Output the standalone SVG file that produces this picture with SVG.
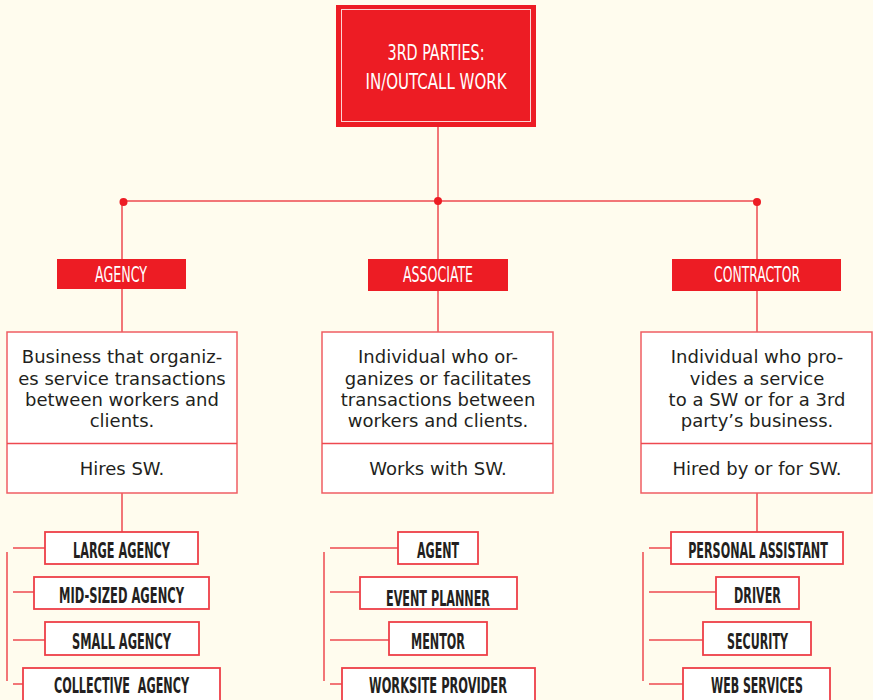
<svg xmlns="http://www.w3.org/2000/svg" width="873" height="700" viewBox="0 0 873 700">
<style>
.bg{fill:#FFFCEE}
.ln{stroke:#EE4950;stroke-width:1.5;fill:none}
.box{fill:#FFFFFF;stroke:#EF5D63;stroke-width:1.5}
.cbox{fill:#FFFFFF;stroke:#EE3F47;stroke-width:1.8}
.lab{fill:#ED1C24}
.lt{font-family:"Liberation Sans Narrow","DejaVu Sans Condensed","Liberation Sans",sans-serif;font-size:21px;fill:#FFFFFF;text-anchor:middle}
.ct{font-family:"Liberation Sans Narrow","DejaVu Sans Condensed","Liberation Sans",sans-serif;font-size:21px;fill:#231F20;text-anchor:middle;font-weight:bold;white-space:pre}
.dt{font-family:"DejaVu Sans",sans-serif;font-size:18px;fill:#231F20;text-anchor:middle}
.dot{fill:#ED1C24}
</style>
<rect class="bg" x="0" y="0" width="873" height="700"/>
<g id="connectors">
<path class="ln" d="M438,127 V201 M123,201 H757 M122,201 V259 M122,289 V332 M438,201 V259 M438,291 V332 M757,201 V259 M757,291 V332"/>
<path class="ln" d="M122,493 V532 M757,493 V532"/>
<path class="ln" d="M7,552 V681 M13,548 H45 M13,592 H34 M13,640 H45 M13,684 H23"/>
<path class="ln" d="M324,552 V681 M330,548 H398 M330,592 H360 M330,640 H389 M330,684 H342"/>
<path class="ln" d="M643,552 V681 M649,548 H671 M649,592 H716 M649,640 H703 M649,684 H683"/>
<circle class="dot" cx="123.5" cy="202" r="4"/>
<circle class="dot" cx="438" cy="201" r="4"/>
<circle class="dot" cx="757" cy="202" r="4"/>
</g>
<g id="root">
<rect x="336" y="5" width="200" height="122" fill="#ED1C24"/>
<rect x="341.5" y="9.5" width="189" height="112" fill="none" stroke="#FBD3D3" stroke-width="1"/>
<text class="lt" x="436" y="60" font-size="24" textLength="97" lengthAdjust="spacingAndGlyphs">3RD PARTIES:</text>
<text class="lt" x="436" y="89" font-size="24" textLength="141" lengthAdjust="spacingAndGlyphs">IN/OUTCALL WORK</text>
</g>
<g id="agency">
<rect class="lab" x="57" y="259" width="129" height="30"/>
<text class="lt" x="121" y="282" textLength="52" lengthAdjust="spacingAndGlyphs">AGENCY</text>
</g>
<g id="associate">
<rect class="lab" x="368" y="259" width="140" height="32"/>
<text class="lt" x="438" y="282" textLength="70" lengthAdjust="spacingAndGlyphs">ASSOCIATE</text>
</g>
<g id="contractor">
<rect class="lab" x="672" y="259" width="169" height="32"/>
<text class="lt" x="757" y="282" textLength="86" lengthAdjust="spacingAndGlyphs">CONTRACTOR</text>
</g>
<g id="agency-desc">
<rect class="box" x="7" y="332" width="230" height="161"/>
<line class="ln" x1="7" y1="443.5" x2="237" y2="443.5" stroke="#EF5D63"/>
<text class="dt" x="122" y="363">Business that organiz-</text>
<text class="dt" x="122" y="385">es service transactions</text>
<text class="dt" x="122" y="406">between workers and</text>
<text class="dt" x="122" y="427">clients.</text>
<text class="dt" x="122" y="475">Hires SW.</text>
</g>
<g id="associate-desc">
<rect class="box" x="322" y="332" width="231" height="161"/>
<line class="ln" x1="322" y1="443.5" x2="553" y2="443.5" stroke="#EF5D63"/>
<text class="dt" x="438" y="363">Individual who or-</text>
<text class="dt" x="438" y="385">ganizes or facilitates</text>
<text class="dt" x="438" y="406">transactions between</text>
<text class="dt" x="438" y="427">workers and clients.</text>
<text class="dt" x="438" y="475">Works with SW.</text>
</g>
<g id="contractor-desc">
<rect class="box" x="641" y="332" width="231" height="161"/>
<line class="ln" x1="641" y1="443.5" x2="872" y2="443.5" stroke="#EF5D63"/>
<text class="dt" x="757" y="363">Individual who pro-</text>
<text class="dt" x="757" y="385">vides a service</text>
<text class="dt" x="757" y="406">to a SW or for a 3rd</text>
<text class="dt" x="757" y="427">party’s business.</text>
<text class="dt" x="757" y="475">Hired by or for SW.</text>
</g>
<g id="large-agency"><rect class="cbox" x="45" y="532" width="153" height="32"/><text class="ct" x="121.5" y="558" textLength="97" lengthAdjust="spacingAndGlyphs">LARGE AGENCY</text></g>
<g id="mid-sized-agency"><rect class="cbox" x="34" y="577" width="175" height="32"/><text class="ct" x="121.5" y="603" textLength="125" lengthAdjust="spacingAndGlyphs">MID-SIZED AGENCY</text></g>
<g id="small-agency"><rect class="cbox" x="45" y="622" width="154" height="33"/><text class="ct" x="121.5" y="649" textLength="99" lengthAdjust="spacingAndGlyphs">SMALL AGENCY</text></g>
<g id="collective-agency"><rect class="cbox" x="23" y="668" width="197" height="40"/><text class="ct" x="121.5" y="693" textLength="135" lengthAdjust="spacingAndGlyphs">COLLECTIVE  AGENCY</text></g>
<g id="agent"><rect class="cbox" x="398" y="532" width="80" height="32"/><text class="ct" x="438" y="558" textLength="42" lengthAdjust="spacingAndGlyphs">AGENT</text></g>
<g id="event-planner"><rect class="cbox" x="360" y="577" width="157" height="32"/><text class="ct" x="438" y="606" textLength="104" lengthAdjust="spacingAndGlyphs">EVENT PLANNER</text></g>
<g id="mentor"><rect class="cbox" x="389" y="622" width="98" height="33"/><text class="ct" x="438" y="649" textLength="54" lengthAdjust="spacingAndGlyphs">MENTOR</text></g>
<g id="worksite-provider"><rect class="cbox" x="342" y="668" width="193" height="40"/><text class="ct" x="438" y="693" textLength="138" lengthAdjust="spacingAndGlyphs">WORKSITE PROVIDER</text></g>
<g id="personal-assistant"><rect class="cbox" x="671" y="532" width="172" height="32"/><text class="ct" transform="translate(758,558) scale(0.72,1)" x="0" y="0" textLength="194" lengthAdjust="spacingAndGlyphs">PERSONAL ASSISTANT</text></g>
<g id="driver"><rect class="cbox" x="716" y="577" width="83" height="32"/><text class="ct" x="757.5" y="603" textLength="47" lengthAdjust="spacingAndGlyphs">DRIVER</text></g>
<g id="security"><rect class="cbox" x="703" y="622" width="108" height="33"/><text class="ct" x="757.5" y="649" textLength="61" lengthAdjust="spacingAndGlyphs">SECURITY</text></g>
<g id="web-services"><rect class="cbox" x="683" y="668" width="147" height="40"/><text class="ct" x="757" y="693" textLength="92" lengthAdjust="spacingAndGlyphs">WEB SERVICES</text></g>
</svg>
